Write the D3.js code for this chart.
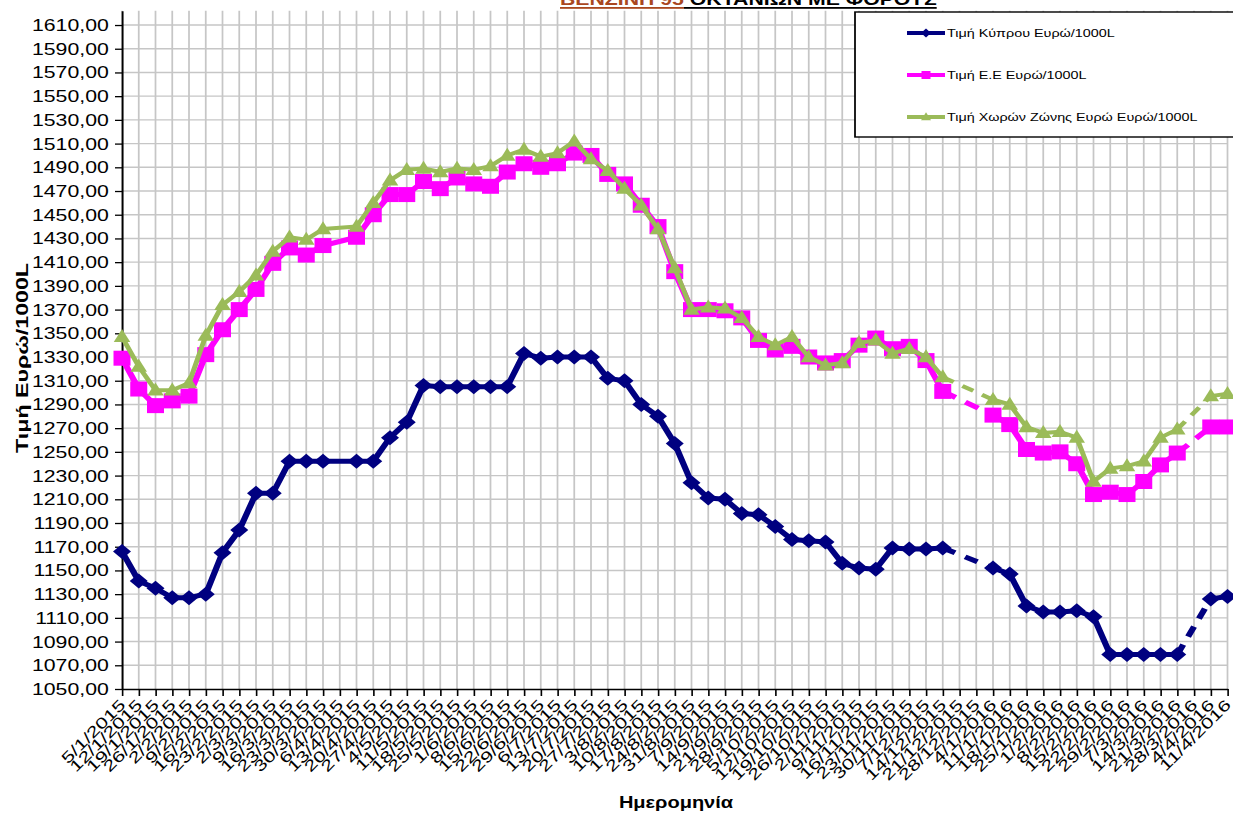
<!DOCTYPE html>
<html>
<head>
<meta charset="utf-8">
<script src="https://cdn.jsdelivr.net/npm/d3@7"></script>
<style>
  body { margin: 0; background: #fff; }
  svg { display: block; font-family: "Liberation Sans", Arial, sans-serif; }
</style>
</head>
<body>
<svg width="1233" height="816"></svg>
<script>
// Weekly categories
const dates = ["5/1/2015","12/1/2015","19/1/2015","26/1/2015","2/2/2015","9/2/2015","16/2/2015","23/2/2015",
  "2/3/2015","9/3/2015","16/3/2015","23/3/2015","30/3/2015","6/4/2015","13/4/2015","20/4/2015","27/4/2015",
  "4/5/2015","11/5/2015","18/5/2015","25/5/2015","1/6/2015","8/6/2015","15/6/2015","22/6/2015","29/6/2015",
  "6/7/2015","13/7/2015","20/7/2015","27/7/2015","3/8/2015","10/8/2015","17/8/2015","24/8/2015","31/8/2015",
  "7/9/2015","14/9/2015","21/9/2015","28/9/2015","5/10/2015","12/10/2015","19/10/2015","26/10/2015",
  "2/11/2015","9/11/2015","16/11/2015","23/11/2015","30/11/2015","7/12/2015","14/12/2015","21/12/2015","28/12/2015",
  "4/1/2016","11/1/2016","18/1/2016","25/1/2016","1/2/2016","8/2/2016","15/2/2016","22/2/2016","29/2/2016",
  "7/3/2016","14/3/2016","21/3/2016","28/3/2016","4/4/2016","11/4/2016"];

// Prices, euro / 1000L (null = no value that week)
const cyprus = [1166,1141,1135,1127,1127,1130,1165,1184,1215,1215,1242,1242,1242,null,1242,1242,1262,
  1275,1306,1305,1305,1305,1305,1305,1333,1329,1330,1330,1330,1312,1310,1290,1280,1257,1224,
  1211,1210,1198,1197,1187,1176,1175,1174,1156,1152,1151,1169,1168,1168,1169,null,null,
  1152,1147,1120,1115,1115,1116,1111,1079,1079,1079,1079,1079,null,1126,1128];

const eu = [1329,1303,1289,1293,1297,1332,1353,1370,1387,1409,1422,1416,1424,null,1431,1450,1467,
  1467,1478,1472,1481,1476,1474,1486,1493,1490,1493,1502,1500,1484,1476,1458,1440,1402,1370,
  1370,1369,1363,1344,1336,1339,1330,1325,1327,1340,1346,1337,1339,1327,1301,null,null,
  1281,1273,1252,1249,1250,1240,1214,1216,1214,1225,1239,1249,null,1271,1271];

const euroZone = [1347,1322,1302,1302,1308,1348,1374,1385,1399,1419,1431,1429,1438,null,1440,1460,1479,
  1488,1489,1486,1489,1488,1491,1500,1505,1499,1502,1512,1497,1487,1472,1458,1438,1405,1370,
  1372,1371,1363,1347,1340,1347,1330,1323,1325,1342,1344,1333,1337,1330,1313,null,null,
  1294,1290,1271,1266,1267,1262,1225,1236,1238,1242,1262,1269,null,1297,1299];

// missing weeks that are bridged with a dashed line
const dashedGaps = ["21/12/2015", "28/12/2015", "28/3/2016"];

const yTicks = d3.range(1050, 1611, 20);
const seriesNames = ["Τιμή Κύπρου Ευρώ/1000L", "Τιμή Ε.Ε Ευρώ/1000L", "Τιμή Χωρών Ζώνης Ευρώ Ευρώ/1000L"];

// the original picture is stretched sideways, so draw in a narrower space and scale it
const SX = 1.25;
// rotated texts are wide in their own direction
const WIDE = 1.38;
const svg = d3.select("svg");
const root = svg.append("g").attr("transform", `scale(${SX},1)`);

const plotLeft = 122 / SX, plotRight = 1227.5 / SX, plotTop = 10.8, plotBottom = 689;

const x = d3.scalePoint().domain(dates).range([plotLeft, plotRight]);
const y = d3.scaleLinear().domain([1050, 1622]).range([plotBottom, plotTop]);

// Grid
const grid = root.append("g").attr("stroke", "#c6c6c6").attr("stroke-width", 1.4);
grid.selectAll(".v").data(dates).join("line")
  .attr("x1", d => x(d)).attr("x2", d => x(d))
  .attr("y1", plotTop).attr("y2", plotBottom);
grid.selectAll(".h").data(yTicks.slice(1)).join("line")
  .attr("x1", plotLeft).attr("x2", plotRight)
  .attr("y1", d => y(d)).attr("y2", d => y(d));

// Axes
const yAxis = root.append("g")
  .attr("transform", `translate(${plotLeft},0)`)
  .call(d3.axisLeft(y).tickValues(yTicks)
    .tickFormat(d => d3.format(".2f")(d).replace(".", ","))
    .tickSize(5.6).tickSizeOuter(0).tickPadding(5));
yAxis.select(".domain").attr("stroke", "#000").attr("stroke-width", 1.5);
yAxis.selectAll(".tick line").attr("stroke", "#000").attr("stroke-width", 1.3);
yAxis.selectAll("text").attr("font-size", 17).attr("fill", "#000")
  .attr("font-family", "'Liberation Sans', Arial, sans-serif");

const xAxis = root.append("g")
  .attr("transform", `translate(0,${plotBottom})`)
  .call(d3.axisBottom(x).tickSize(7).tickSizeOuter(0));
xAxis.select(".domain").attr("stroke", "#000").attr("stroke-width", 1.5);
xAxis.selectAll(".tick line").attr("stroke", "#000").attr("stroke-width", 1.3);
xAxis.selectAll("text")
  .attr("font-size", 15.5).attr("fill", "#000")
  .attr("font-family", "'Liberation Sans', Arial, sans-serif")
  .attr("text-anchor", "end")
  .attr("x", 0).attr("y", 0).attr("dy", "0.35em")
  .attr("transform", `translate(0,13) scale(${1 / SX},1) rotate(-45) scale(${WIDE},1)`);

// Series lines and markers
const line = d3.line().x(p => x(p.d)).y(p => y(p.v));

function pieces(values) {
  const pts = dates.map((d, i) => ({ d, v: values[i], i })).filter(p => p.v != null);
  const solid = [], dashed = [];
  let run = [pts[0]];
  for (let k = 1; k < pts.length; k++) {
    const a = pts[k - 1], b = pts[k];
    const isDashed = dates.slice(a.i + 1, b.i).some(d => dashedGaps.includes(d));
    if (isDashed) { solid.push(run); dashed.push([a, b]); run = [b]; }
    else run.push(b);
  }
  solid.push(run);
  return { pts, solid, dashed };
}

const diamond = (w, h) => `M0,${-h}L${w},0L0,${h}L${-w},0Z`;
const square = (w, h) => `M${-w},${-h}H${w}V${h}H${-w}Z`;
const triangle = (w, h) => `M0,${-h * 0.6}L${w},${h * 0.4}L${-w},${h * 0.4}Z`;

const series = [
  { values: cyprus, color: "#000080", width: 5, dash: "11,9", marker: diamond(7.2, 7.5), small: diamond(4, 4.5) },
  { values: eu, color: "#ff00ff", width: 5, dash: "12,9", marker: square(6.8, 7.5), small: square(3.6, 4) },
  { values: euroZone, color: "#9bbb59", width: 4, dash: "10,8", marker: triangle(6.6, 13), small: triangle(4, 8) }
];

series.forEach(s => {
  const p = pieces(s.values);
  const g = root.append("g");
  g.selectAll(".solid").data(p.solid).join("path")
    .attr("d", line).attr("fill", "none")
    .attr("stroke", s.color).attr("stroke-width", s.width)
    .attr("stroke-linejoin", "round");
  g.selectAll(".dashed").data(p.dashed).join("path")
    .attr("d", line).attr("fill", "none")
    .attr("stroke", s.color).attr("stroke-width", s.width)
    .attr("stroke-dasharray", s.dash);
  g.selectAll(".mark").data(p.pts).join("path")
    .attr("transform", q => `translate(${x(q.d)},${y(q.v)})`)
    .attr("d", s.marker).attr("fill", s.color);
});

// Legend
const lx = 855 / SX;
const legend = root.append("g");
legend.append("rect")
  .attr("x", lx).attr("y", 12).attr("width", 330).attr("height", 125)
  .attr("fill", "#fff").attr("stroke", "#000").attr("stroke-width", 1.4);
series.forEach((s, i) => {
  const ly = 33 + i * 42;
  const x0 = 907 / SX, x1 = 945 / SX;
  legend.append("line").attr("x1", x0).attr("x2", x1).attr("y1", ly).attr("y2", ly)
    .attr("stroke", s.color).attr("stroke-width", 4);
  legend.append("path").attr("transform", `translate(${(x0 + x1) / 2},${ly})`)
    .attr("d", s.small).attr("fill", s.color);
  legend.append("text").attr("x", 947 / SX).attr("y", ly).attr("dy", "0.35em")
    .attr("font-size", 11.5).attr("fill", "#000").text(seriesNames[i]);
});

// Axis titles
root.append("text")
  .attr("x", 676 / SX).attr("y", 808)
  .attr("text-anchor", "middle").attr("font-size", 16).attr("font-weight", "bold")
  .text("Ημερομηνία");
root.append("text")
  .attr("transform", `translate(${28 / SX},358) scale(${1 / SX},1) rotate(-90) scale(1.45,1)`)
  .attr("text-anchor", "middle").attr("font-size", 16).attr("font-weight", "bold")
  .text("Τιμή Ευρώ/1000L");

// Title (cut off at the top of the picture)
const t1 = root.append("text").attr("x", 560 / SX).attr("y", 5)
  .attr("font-size", 17).attr("font-weight", "bold").attr("fill", "#a9471f")
  .text("ΒΕΝΖΙΝΗ 95");
const w1 = t1.node().getComputedTextLength();
const t2 = root.append("text").attr("x", 560 / SX + w1).attr("y", 5)
  .attr("font-size", 17).attr("font-weight", "bold").attr("fill", "#000")
  .style("white-space", "pre")
  .text(" ΟΚΤΑΝΙΩΝ ΜΕ ΦΟΡΟΥΣ");
const w2 = t2.node().getComputedTextLength();
root.append("rect").attr("x", 560 / SX).attr("y", 7).attr("width", w1).attr("height", 1.8).attr("fill", "#a9471f");
root.append("rect").attr("x", 560 / SX + w1).attr("y", 7).attr("width", w2).attr("height", 1.8).attr("fill", "#000");
</script>
</body>
</html>
